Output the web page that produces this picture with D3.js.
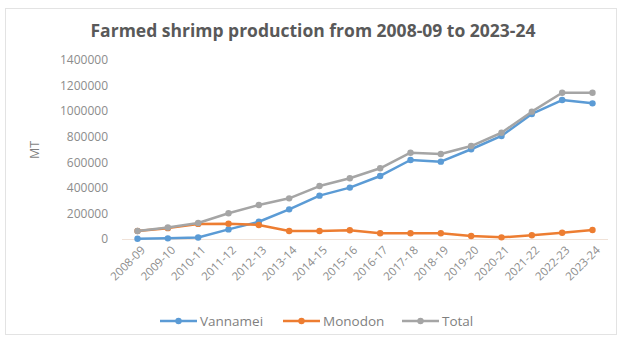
<!DOCTYPE html>
<html>
<head>
<meta charset="utf-8">
<script src="https://cdn.jsdelivr.net/npm/d3@7"></script>
<style>
  body { margin: 0; background: #fff; }
  text { font-family: "Open Sans", "Liberation Sans", sans-serif; }
</style>
</head>
<body>
<svg id="chart" width="621" height="342"></svg>
<script>
var years = ['2008-09', '2009-10', '2010-11', '2011-12', '2012-13', '2013-14', '2014-15', '2015-16',
    '2016-17', '2017-18', '2018-19', '2019-20', '2020-21', '2021-22', '2022-23', '2023-24'];
var vannamei = [2000, 5000, 12000, 75000, 135000, 232000, 339000, 402000,
    493000, 618000, 605000, 702000, 806000, 978000, 1087000, 1061000];
var monodon = [62000, 85000, 118000, 120000, 110000, 63000, 63000, 68000,
    45000, 45000, 45000, 23000, 13000, 29000, 49000, 70000];
var total = [62000, 90000, 125000, 201000, 266000, 318000, 414000, 475000,
    553000, 675000, 665000, 727000, 831000, 996000, 1144000, 1144000];
var yTicks = [0, 200000, 400000, 600000, 800000, 1000000, 1200000, 1400000];

var series = [
    { name: 'Vannamei', values: vannamei, color: '#5b9bd5' },
    { name: 'Monodon', values: monodon, color: '#ed7d31' },
    { name: 'Total', values: total, color: '#a5a5a5' }
];

var svg = d3.select('#chart');

// chart frame
svg.append('rect')
    .attr('x', 5.5).attr('y', 8.5).attr('width', 611).attr('height', 326)
    .attr('fill', '#fff').attr('stroke', '#e3e3e3');

svg.append('text')
    .attr('x', 313).attr('y', 37)
    .attr('text-anchor', 'middle')
    .attr('font-size', 17.5).attr('font-weight', 'bold')
    .attr('fill', '#595959')
    .text('Farmed shrimp production from 2008-09 to 2023-24');

var scX = d3.scalePoint().domain(years).range([137.5, 592.5]);
var scY = d3.scaleLinear().domain([0, 1400000]).range([239, 60]);

// y axis
var yAxis = svg.append('g').attr('transform', 'translate(110,0)')
    .call(d3.axisLeft(scY).tickValues(yTicks).tickSize(0).tickPadding(2).tickFormat(d3.format('d')));
yAxis.select('.domain').remove();
yAxis.selectAll('text').attr('font-size', 12).attr('fill', '#8c8c8c')
    .attr('font-family', '"Open Sans", sans-serif');

svg.append('text')
    .attr('transform', 'translate(39,150) rotate(-90)')
    .attr('text-anchor', 'middle')
    .attr('font-size', 12.5).attr('fill', '#7f7f7f')
    .text('MT');

// x axis
svg.append('line')
    .attr('x1', 122).attr('x2', 608)
    .attr('y1', scY(0) + 0.5).attr('y2', scY(0) + 0.5)
    .attr('stroke', '#f0e2d8');

var xAxis = svg.append('g').attr('transform', 'translate(0,' + (scY(0) + 6) + ')')
    .call(d3.axisBottom(scX).tickSize(0).tickPadding(0));
xAxis.select('.domain').remove();
xAxis.selectAll('text')
    .attr('font-size', 11.5).attr('fill', '#8c8c8c')
    .attr('font-family', '"Open Sans", sans-serif')
    .attr('text-anchor', 'end')
    .attr('dy', '0.35em')
    .attr('transform', 'translate(5,3) rotate(-45)');

// lines + markers
var line = d3.line().x((d, i) => scX(years[i])).y(d => scY(d));

series.forEach(function (s) {
    var g = svg.append('g');
    g.append('path')
        .attr('d', line(s.values))
        .attr('fill', 'none')
        .attr('stroke', s.color)
        .attr('stroke-width', 2.5)
        .attr('stroke-linejoin', 'round');
    g.selectAll('circle').data(s.values).enter().append('circle')
        .attr('cx', (d, i) => scX(years[i]))
        .attr('cy', d => scY(d))
        .attr('r', 3.2)
        .attr('fill', s.color);
});

// legend
var legX = [160, 283, 402];
var leg = svg.selectAll('.leg').data(series).enter().append('g')
    .attr('class', 'leg')
    .attr('transform', (d, i) => 'translate(' + legX[i] + ',321)');
leg.append('line')
    .attr('x1', 0).attr('x2', 37).attr('y1', 0).attr('y2', 0)
    .attr('stroke', d => d.color).attr('stroke-width', 2.5);
leg.append('circle')
    .attr('cx', 18.5).attr('cy', 0).attr('r', 3.2)
    .attr('fill', d => d.color);
leg.append('text')
    .attr('x', 40).attr('y', 0).attr('dy', '0.35em')
    .attr('font-size', 13.5).attr('fill', '#7f7f7f')
    .text(d => d.name);
</script>
</body>
</html>
